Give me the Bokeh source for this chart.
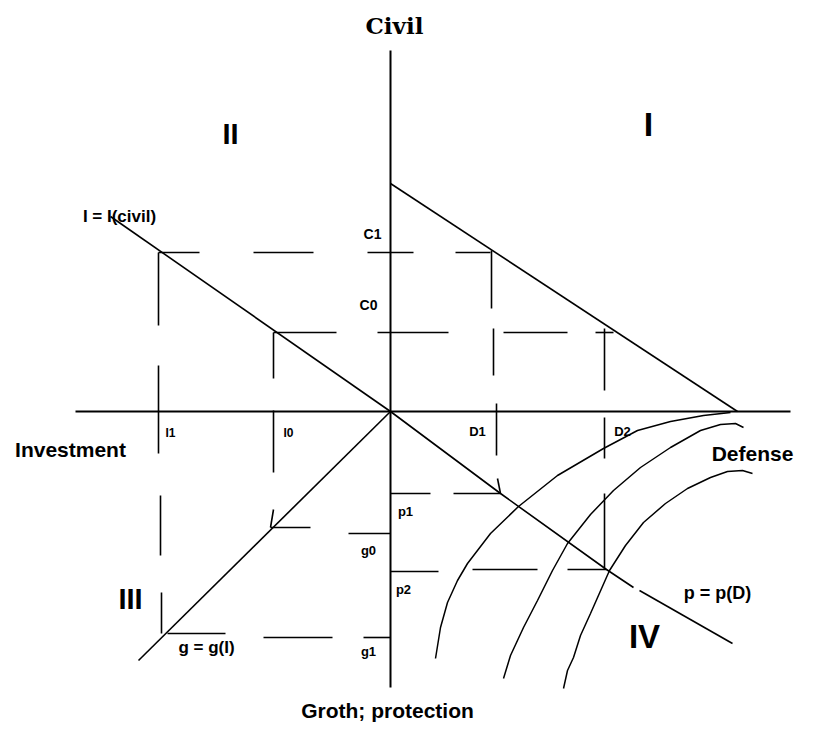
from bokeh.plotting import figure
from bokeh.models import Range1d
from bokeh.embed import file_html
from bokeh.resources import INLINE
from bokeh.core.properties import value

# ---------------- data (diagram units, origin = crossing of the axes) ----------------
axis_h_x = [-315, 400]          # Investment <-> Defense axis
axis_v_y = [-276, 361]          # Growth/protection <-> Civil axis

frontier_x = [0, 347]           # quadrant I: civil / defense frontier
frontier_y = [228, 0]

icivil_x = [-280, 0]            # quadrant II: I = I(civil)
icivil_y = [195, 0]

pD_x1 = [0, 110, 216, 243]      # quadrant IV: p = p(D)
pD_y1 = [0, -82, -158, -176]
pD_x2 = [249, 342]
pD_y2 = [-179, -232]

gI_x = [0, -252]                # quadrant III: g = g(I)
gI_y = [0, -249]

C1, C0 = 159, 79
I1, I0 = -232, -117
D1, D2 = 103, 214
p1, p2 = -82, -158
g0, g1 = -122, -226
g0_pt = -116

# dashed guide pieces (x0, y0, x1, y1)
guides = [
    # C1 level
    (-232, C1, -191, C1), (-137, C1, -77, C1), (-23, C1, 23, C1), (65, C1, 100, C1),
    # C0 level
    (-117, C0, -54, C0), (-13, C0, 58, C0), (113, C0, 177, C0), (205, C0, 223, C0),
    # I1 vertical
    (I1, 159, I1, 86), (I1, 46, I1, -42), (I1 + 2, -84, I1 + 2, -144), (I1 + 3, -181, I1 + 3, -222),
    # I0 vertical
    (I0, 79, I0, 33), (I0, 1, I0, -61), (I0, -98, -120, g0_pt),
    # g-point at I0 and g0 tick
    (-120, g0_pt, -80, g0_pt), (-42, g0, 0, g0),
    # g1 level
    (-223, -222, -165, -222), (-127, g1, -58, g1), (-27, g1, 0, g1),
    # D1 vertical
    (D1 - 2, 161, D1 - 2, 103), (D1, 83, D1, 36), (D1 + 3, 8, D1 + 3, -44), (107, -67, 110, p1),
    # p1 level
    (0, p1, 40, p1), (63, p1, 110, p1),
    # D2 vertical
    (D2, 83, D2, 21), (D2, -6, D2, -47), (D2, -82, D2, p2),
    # p2 level
    (0, p2 - 2, 48, p2 - 2), (82, p2, 147, p2), (177, p2, 216, p2),
]

# iso-curves in quadrant IV
curve1_x = [45, 50, 57, 67, 77, 100, 128, 167, 213, 247, 280, 313, 340]
curve1_y = [-247, -216, -191, -169, -152, -122, -95, -64, -37, -19, -10, -4, -1]
curve2_x = [113, 120, 133, 147, 162, 177, 200, 223, 250, 280, 310, 330, 345, 353]
curve2_y = [-267, -244, -216, -189, -159, -132, -103, -79, -56, -36, -19, -13, -12, -16]
curve3_x = [173, 177, 183, 190, 200, 219, 235, 253, 275, 297, 320, 337, 352, 362]
curve3_y = [-277, -259, -246, -224, -202, -159, -134, -111, -92, -77, -66, -60, -59, -62]

# ---------------- figure ----------------
p = figure(width=797, height=723, output_backend="svg", toolbar_location=None,
           x_range=Range1d(-390, 407), y_range=Range1d(-312, 411),
           x_axis_type=None, y_axis_type=None, min_border=0,
           background_fill_color="white", border_fill_color="white")
p.outline_line_color = None
p.xgrid.grid_line_color = None
p.ygrid.grid_line_color = None

K = "black"
p.line(axis_h_x, [0, 0], line_color=K, line_width=2)
p.line([0, 0], axis_v_y, line_color=K, line_width=2)
p.line(frontier_x, frontier_y, line_color=K, line_width=1.6)
p.line(icivil_x, icivil_y, line_color=K, line_width=1.6)
p.line(pD_x1, pD_y1, line_color=K, line_width=1.6)
p.line(pD_x2, pD_y2, line_color=K, line_width=1.6)
p.line(gI_x, gI_y, line_color=K, line_width=1.6)

p.multi_line([[g[0], g[2]] for g in guides], [[g[1], g[3]] for g in guides],
             line_color=K, line_width=1.6)

for cx, cy in ((curve1_x, curve1_y), (curve2_x, curve2_y), (curve3_x, curve3_y)):
    p.line(cx, cy, line_color=K, line_width=1.5)

SANS = value("Liberation Sans")


def label(px, py, txt, size, font=SANS):
    # px, py: picture position of the label, converted to diagram units
    p.text(x=[px - 390], y=[411 - py], text=[txt], text_font=font,
           text_font_size=value(f"{size}px"), text_font_style="bold",
           text_align="center", text_baseline="middle", text_color=K)


label(394, 25, "Civil", 23, value("DejaVu Serif"))
label(648, 123, "I", 34)
label(230, 133, "II", 29)
label(130, 598, "III", 29)
label(644, 636, "IV", 33)
label(119, 216, "I = I(civil)", 17)
label(372, 233, "C1", 14)
label(368, 304, "C0", 14)
label(170, 432, "I1", 12)
label(288, 432, "I0", 12)
label(477, 431, "D1", 13)
label(622, 431, "D2", 13)
label(405, 511, "p1", 13)
label(368, 550, "g0", 13)
label(403, 589, "p2", 13)
label(368, 651, "g1", 13)
label(206, 647, "g = g(I)", 17)
label(717, 592, "p = p(D)", 18)
label(70, 449, "Investment", 21)
label(752, 453, "Defense", 21)
label(387, 710, "Groth; protection", 21)

open("out.html", "w").write(file_html(p, INLINE))
